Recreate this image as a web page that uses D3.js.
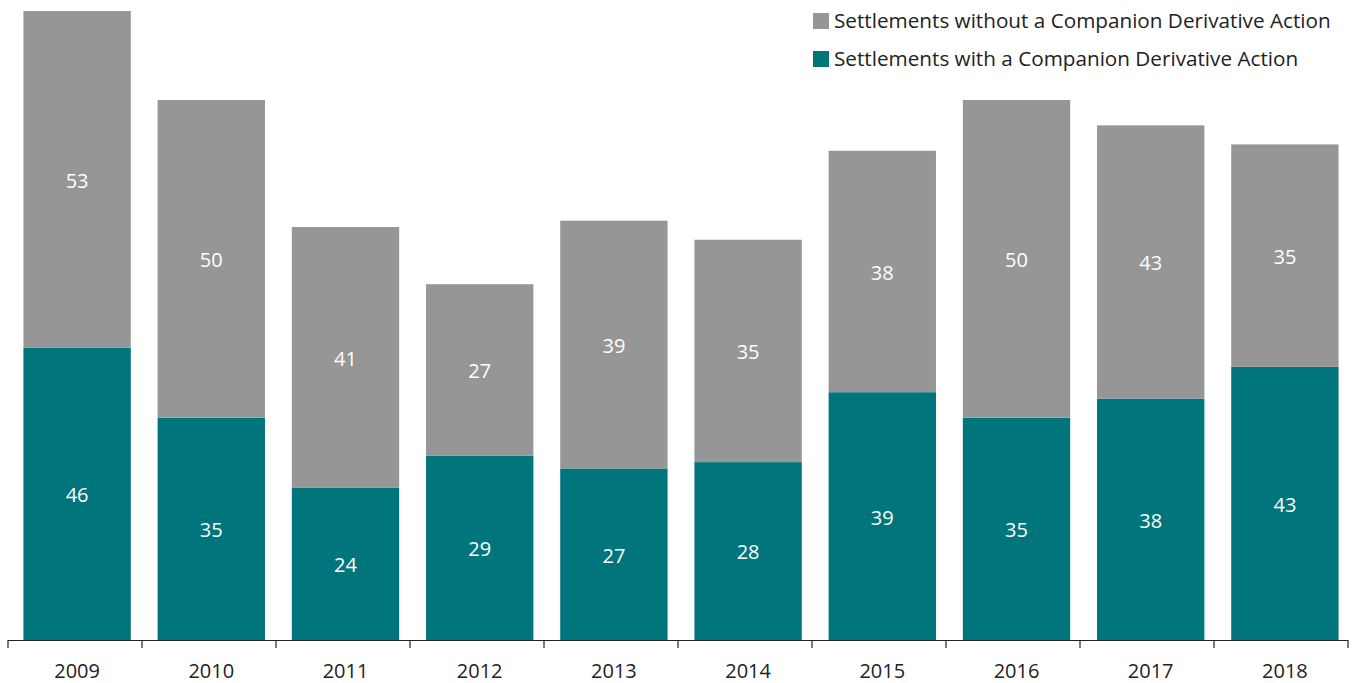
<!DOCTYPE html>
<html>
<head>
<meta charset="utf-8">
<script src="https://cdn.jsdelivr.net/npm/d3@7"></script>
<style>
  html, body { margin: 0; padding: 0; background: #fff; }
  svg { display: block; font-family: "Open Sans", "Noto Sans", sans-serif; }
</style>
</head>
<body>
<svg id="chart" width="1354" height="683"></svg>
<script>
// Settlements per year, split by whether a companion derivative action was filed
const years = ["2009", "2010", "2011", "2012", "2013", "2014", "2015", "2016", "2017", "2018"];
const withCompanion = [46, 35, 24, 29, 27, 28, 39, 35, 38, 43];
const withoutCompanion = [53, 50, 41, 27, 39, 35, 38, 50, 43, 35];
const seriesNames = ["Settlements without a Companion Derivative Action", "Settlements with a Companion Derivative Action"];

const colors = { with: "#00767C", without: "#969696" };

const svg = d3.select("#chart");
const axisStart = 8, axisEnd = 1348, base = 640;

const x = d3.scaleBand().domain(years).range([10, 1352]).paddingInner(0.2).paddingOuter(0.1);
const y = d3.scaleLinear().domain([0, 99]).range([base, 11]);

const rows = years.map((yr, i) => ({ year: yr, with: withCompanion[i], without: withoutCompanion[i] }));
const stacked = d3.stack().keys(["with", "without"])(rows);

const g = svg.append("g");
stacked.forEach(layer => {
  const key = layer.key;
  g.selectAll(null).data(layer).join("rect")
    .attr("x", d => x(d.data.year))
    .attr("width", x.bandwidth())
    .attr("y", d => y(d[1]))
    .attr("height", d => y(d[0]) - y(d[1]))
    .attr("fill", colors[key]);
  g.selectAll(null).data(layer).join("text")
    .attr("x", d => x(d.data.year) + x.bandwidth() / 2)
    .attr("y", d => (y(d[0]) + y(d[1])) / 2)
    .attr("dy", "0.42em")
    .attr("text-anchor", "middle")
    .attr("fill", "#fff")
    .attr("font-size", 20)
    .text(d => d.data[key]);
});

// Category axis: baseline with ticks between the years
const axisG = svg.append("g");
axisG.append("line")
  .attr("x1", axisStart).attr("x2", axisEnd)
  .attr("y1", base + 0.5).attr("y2", base + 0.5)
  .attr("stroke", "#222").attr("stroke-width", 1.2);
const boundaries = d3.range(years.length + 1).map(i => axisStart + i * (axisEnd - axisStart) / years.length);
axisG.selectAll(null).data(boundaries).join("line")
  .attr("x1", d => d).attr("x2", d => d)
  .attr("y1", base).attr("y2", base + 8)
  .attr("stroke", "#222").attr("stroke-width", 1.2);
axisG.selectAll(null).data(years).join("text")
  .attr("x", d => x(d) + x.bandwidth() / 2)
  .attr("y", 670)
  .attr("dy", "0.38em")
  .attr("text-anchor", "middle")
  .attr("fill", "#222")
  .attr("font-size", 20)
  .text(d => d);

// Legend
const legend = svg.append("g").attr("transform", "translate(813,0)");
const legendColors = [colors.without, colors.with];
seriesNames.forEach((name, i) => {
  const cy = 21 + i * 38;
  legend.append("rect").attr("x", 0).attr("y", cy - 8).attr("width", 16).attr("height", 16).attr("fill", legendColors[i]);
  legend.append("text").attr("x", 21).attr("y", cy).attr("dy", "0.35em")
    .attr("font-size", 20.7).attr("fill", "#222").text(name);
});
</script>
</body>
</html>
